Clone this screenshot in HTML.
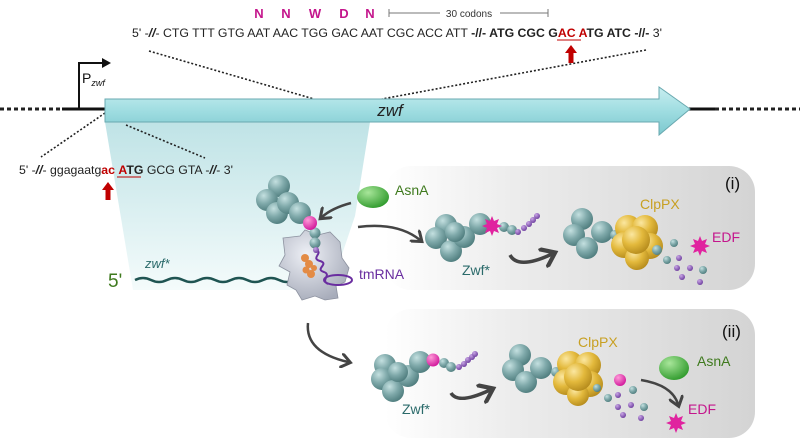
<!DOCTYPE html>
<html><head><meta charset="utf-8"><style>
body{margin:0;background:#fff}
svg{display:block;font-family:"Liberation Sans",sans-serif}
</style></head><body>
<svg width="800" height="446" viewBox="0 0 800 446" xmlns="http://www.w3.org/2000/svg">
<defs>
<radialGradient id="tb" cx="0.35" cy="0.3" r="0.75"><stop offset="0" stop-color="#c4e0e0"/><stop offset="0.5" stop-color="#7fa9aa"/><stop offset="1" stop-color="#4d7b7c"/></radialGradient>
<radialGradient id="gb" cx="0.35" cy="0.3" r="0.75"><stop offset="0" stop-color="#fbe7a0"/><stop offset="0.5" stop-color="#e3b93c"/><stop offset="1" stop-color="#b48a1c"/></radialGradient>
<radialGradient id="mb" cx="0.35" cy="0.3" r="0.75"><stop offset="0" stop-color="#ff9ad8"/><stop offset="1" stop-color="#d0159a"/></radialGradient>
<radialGradient id="grb" cx="0.35" cy="0.3" r="0.75"><stop offset="0" stop-color="#a8e69a"/><stop offset="1" stop-color="#2f9a2c"/></radialGradient>
<radialGradient id="pb" cx="0.35" cy="0.3" r="0.75"><stop offset="0" stop-color="#c9a6e6"/><stop offset="1" stop-color="#6b3b9c"/></radialGradient>
<linearGradient id="pan" x1="0" x2="1"><stop offset="0" stop-color="#fff"/><stop offset="0.35" stop-color="#ececec"/><stop offset="1" stop-color="#d4d4d4"/></linearGradient>
<linearGradient id="tr" x1="0" y1="0" x2="0" y2="1"><stop offset="0" stop-color="#bfe3e6"/><stop offset="1" stop-color="#f4fbfb"/></linearGradient>
<linearGradient id="ar" x1="0" y1="0" x2="0" y2="1"><stop offset="0" stop-color="#c8eef0"/><stop offset="0.5" stop-color="#9fdde1"/><stop offset="1" stop-color="#7cc8ce"/></linearGradient>
<radialGradient id="rib" cx="0.4" cy="0.35" r="0.7"><stop offset="0" stop-color="#eef0f6"/><stop offset="1" stop-color="#a7acba"/></radialGradient>
<marker id="ah" markerWidth="6" markerHeight="6" refX="3" refY="3" orient="auto" markerUnits="strokeWidth"><path d="M0,0 L4,3 L0,6" fill="none" stroke="#444" stroke-width="1.2"/></marker>
</defs>

<!-- panels -->
<rect x="385" y="166" width="370" height="124" rx="26" fill="url(#pan)"/>
<rect x="385" y="309" width="370" height="129" rx="26" fill="url(#pan)"/>
<!-- translation trapezoid -->
<polygon points="105,122 370,122 355,216 330,290 133,290" fill="url(#tr)"/>

<!-- top sequence -->
<g font-weight="bold" fill="#c4168c" font-size="13">
<text x="259" y="18" text-anchor="middle">N</text><text x="286" y="18" text-anchor="middle">N</text><text x="315" y="18" text-anchor="middle">W</text><text x="344" y="18" text-anchor="middle">D</text><text x="370" y="18" text-anchor="middle">N</text></g>
<g stroke="#777" stroke-width="1"><line x1="389" y1="13" x2="440" y2="13"/><line x1="500" y1="13" x2="548" y2="13"/><line x1="389" y1="9" x2="389" y2="17"/><line x1="548" y1="9" x2="548" y2="17"/></g>
<text x="469" y="17" font-size="10" text-anchor="middle" fill="#333">30 codons</text>
<text x="132" y="37" font-size="12" fill="#222" textLength="530" lengthAdjust="spacingAndGlyphs">5' -<tspan font-weight="bold" font-style="italic">//</tspan>- CTG TTT GTG AAT AAC TGG GAC AAT CGC ACC ATT <tspan font-weight="bold">-//- ATG CGC G<tspan fill="#c00000">AC A</tspan>TG ATC -//-</tspan> 3'</text>
<line x1="557" y1="40" x2="581" y2="40" stroke="#c00000" stroke-width="1"/>
<path d="M571,45 L577,53 L573.5,53 L573.5,63 L568.5,63 L568.5,53 L565,53 Z" fill="#c00000"/>
<g stroke="#222" stroke-width="1.6" stroke-dasharray="2,2" fill="none">
<line x1="149" y1="51" x2="314" y2="99"/><line x1="646" y1="50" x2="382" y2="99"/>
<line x1="105" y1="113" x2="41" y2="157"/><line x1="126" y1="125" x2="205" y2="158"/>
<line x1="0" y1="109" x2="62" y2="109" stroke-width="3" stroke-dasharray="4,3"/>
<line x1="715" y1="109" x2="800" y2="109" stroke-width="3" stroke-dasharray="4,3"/>
</g>
<line x1="62" y1="109" x2="106" y2="109" stroke="#111" stroke-width="3"/>
<line x1="688" y1="109" x2="715" y2="109" stroke="#111" stroke-width="3"/>
<!-- promoter -->
<path d="M79,108 L79,63 L104,63" fill="none" stroke="#111" stroke-width="2"/>
<path d="M102,58 L111,63 L102,68 Z" fill="#111"/>
<text x="82" y="83" font-size="14" fill="#111">P<tspan font-size="9" font-style="italic" dy="3">zwf</tspan></text>
<!-- gene arrow -->
<path d="M105,99 L659,99 L659,87 L690,109 L659,135 L659,122 L105,122 Z" fill="url(#ar)" stroke="#6aa9b0" stroke-width="1"/>
<text x="390" y="116" font-size="17" font-style="italic" text-anchor="middle" fill="#222">zwf</text>

<!-- lower sequence -->
<text x="19" y="174" font-size="12" fill="#222" textLength="214" lengthAdjust="spacingAndGlyphs">5' -<tspan font-weight="bold" font-style="italic">//</tspan>- ggagaatg<tspan fill="#c00000" font-weight="bold">ac</tspan> <tspan font-weight="bold"><tspan fill="#c00000">A</tspan>TG</tspan> GCG GTA -<tspan font-weight="bold" font-style="italic">//</tspan>- 3'</text>
<line x1="117" y1="177" x2="141" y2="177" stroke="#c00000" stroke-width="1"/>
<path d="M108,182 L114,190 L110.5,190 L110.5,200 L105.5,200 L105.5,190 L102,190 Z" fill="#c00000"/>

<!-- mRNA -->
<text x="108" y="287" font-size="19" fill="#3f7a1e">5'</text>
<text x="145" y="268" font-size="13" font-style="italic" fill="#2a6a6a">zwf*</text>
<path d="M135,280 q8,-4 16,0 t16,0 t16,0 t16,0 t16,0 t16,0 t16,0 t16,0 t16,0 t16,0 t16,0 L320,279" fill="none" stroke="#1f5452" stroke-width="2.5"/>

<!-- ribosome -->
<path d="M283,238 L300,236 L305,230 L318,235 L330,232 L340,242 L342,258 L349,268 L345,282 L336,286 L338,298 L325,300 L315,296 L302,300 L296,290 L287,285 L290,272 L279,266 L285,255 Z" fill="url(#rib)" stroke="#8d92a0" stroke-width="0.8"/>
<g fill="#e38b45"><circle cx="305" cy="258" r="4"/><circle cx="309" cy="264" r="4"/><circle cx="306" cy="270" r="3.5"/><circle cx="311" cy="274" r="4"/><circle cx="314" cy="268" r="3"/></g>
<path d="M316,250 c8,3 -6,8 4,11 c10,3 -6,8 4,11 c8,3 -4,8 4,12" fill="none" stroke="#6a2ea0" stroke-width="2"/>
<ellipse cx="338" cy="280" rx="14" ry="5" fill="none" stroke="#6a2ea0" stroke-width="2"/>
<text x="359" y="279" font-size="14" fill="#6a2ea0">tmRNA</text>

<!-- nascent protein -->
<g fill="url(#tb)">
<circle cx="279" cy="186" r="11"/><circle cx="267" cy="200" r="11"/><circle cx="277" cy="213" r="11"/><circle cx="288" cy="203" r="11"/><circle cx="300" cy="213" r="11"/>
<circle cx="315" cy="233" r="5.5"/><circle cx="315" cy="243" r="5.5"/></g>
<circle cx="310" cy="223" r="7" fill="url(#mb)"/>
<circle cx="316" cy="250" r="3" fill="url(#pb)"/>
<ellipse cx="373" cy="197" rx="16" ry="11" fill="url(#grb)"/>
<text x="395" y="195" font-size="14" fill="#3f7a1e">AsnA</text>
<path d="M351,203 Q332,208 322,217" fill="none" stroke="#444" stroke-width="2.5" marker-end="url(#ah)"/>
<path d="M358,227 Q398,222 420,240" fill="none" stroke="#444" stroke-width="2.5" marker-end="url(#ah)"/>
<path d="M308,323 Q305,352 348,362" fill="none" stroke="#444" stroke-width="2.5" marker-end="url(#ah)"/>

<!-- panel i -->
<text x="725" y="189" font-size="17" fill="#111">(i)</text>
<g fill="url(#tb)">
<circle cx="446" cy="225" r="11"/><circle cx="436" cy="238" r="11"/><circle cx="451" cy="251" r="11"/><circle cx="464" cy="237" r="11"/><circle cx="480" cy="224" r="11"/><circle cx="455" cy="232" r="10"/>
<circle cx="504" cy="227" r="5"/><circle cx="512" cy="230" r="5"/></g>
<g fill="url(#pb)"><circle cx="518" cy="232" r="3"/><circle cx="524" cy="228" r="3"/><circle cx="529" cy="224" r="3"/><circle cx="533" cy="220" r="3"/><circle cx="537" cy="216" r="3"/></g>
<path d="M492,216 l2,5 5,-2 -2,5 5,2 -5,2 2,5 -5,-2 -2,5 -2,-5 -5,2 2,-5 -5,-2 5,-2 -2,-5 5,2 Z" fill="#e0239f"/>
<text x="462" y="275" font-size="14" fill="#2a6a6a">Zwf*</text>
<path d="M510,255 Q518,270 552,254" fill="none" stroke="#444" stroke-width="3.5" marker-end="url(#ah)"/>
<g fill="url(#tb)"><circle cx="582" cy="219" r="11"/><circle cx="574" cy="235" r="11"/><circle cx="587" cy="248" r="11"/><circle cx="602" cy="232" r="11"/><circle cx="615" cy="235" r="5"/></g>
<g fill="url(#gb)"><circle cx="628" cy="228" r="13"/><circle cx="645" cy="228" r="13"/><circle cx="624" cy="245" r="13"/><circle cx="650" cy="246" r="13"/><circle cx="637" cy="258" r="12"/><circle cx="636" cy="240" r="14"/></g>
<circle cx="657" cy="250" r="5" fill="url(#tb)"/>
<text x="640" y="209" font-size="14" fill="#c8a022">ClpPX</text>
<path d="M700,236 l2,5 5,-2 -2,5 5,2 -5,2 2,5 -5,-2 -2,5 -2,-5 -5,2 2,-5 -5,-2 5,-2 -2,-5 5,2 Z" fill="#e0239f"/>
<text x="712" y="242" font-size="14" fill="#c4168c">EDF</text>
<g fill="url(#tb)"><circle cx="674" cy="243" r="4"/><circle cx="667" cy="260" r="4"/><circle cx="703" cy="270" r="4"/></g>
<g fill="url(#pb)"><circle cx="679" cy="258" r="3"/><circle cx="677" cy="268" r="3"/><circle cx="690" cy="268" r="3"/><circle cx="682" cy="277" r="3"/><circle cx="700" cy="282" r="3"/></g>

<!-- panel ii -->
<text x="722" y="337" font-size="17" fill="#111">(ii)</text>
<g fill="url(#tb)">
<circle cx="385" cy="365" r="11"/><circle cx="382" cy="379" r="11"/><circle cx="393" cy="391" r="11"/><circle cx="408" cy="376" r="11"/><circle cx="420" cy="362" r="11"/><circle cx="398" cy="372" r="10"/>
<circle cx="444" cy="363" r="5"/><circle cx="451" cy="367" r="5"/></g>
<circle cx="433" cy="360" r="6.5" fill="url(#mb)"/>
<g fill="url(#pb)"><circle cx="459" cy="367" r="3"/><circle cx="464" cy="364" r="3"/><circle cx="468" cy="360" r="3"/><circle cx="472" cy="357" r="3"/><circle cx="475" cy="354" r="3"/></g>
<text x="402" y="414" font-size="14" fill="#2a6a6a">Zwf*</text>
<path d="M451,393 Q458,405 490,390" fill="none" stroke="#444" stroke-width="3.5" marker-end="url(#ah)"/>
<g fill="url(#tb)"><circle cx="520" cy="355" r="11"/><circle cx="513" cy="370" r="11"/><circle cx="526" cy="382" r="11"/><circle cx="541" cy="368" r="11"/><circle cx="556" cy="372" r="5"/></g>
<g fill="url(#gb)"><circle cx="570" cy="364" r="13"/><circle cx="588" cy="365" r="13"/><circle cx="566" cy="382" r="13"/><circle cx="590" cy="384" r="13"/><circle cx="578" cy="395" r="11"/><circle cx="578" cy="377" r="14"/></g>
<circle cx="597" cy="388" r="4" fill="url(#tb)"/>
<text x="578" y="347" font-size="14" fill="#c8a022">ClpPX</text>
<circle cx="620" cy="380" r="6" fill="url(#mb)"/>
<g fill="url(#tb)"><circle cx="608" cy="398" r="4"/><circle cx="633" cy="390" r="4"/><circle cx="644" cy="407" r="4"/></g>
<g fill="url(#pb)"><circle cx="618" cy="395" r="3"/><circle cx="631" cy="405" r="3"/><circle cx="618" cy="407" r="3"/><circle cx="623" cy="415" r="3"/><circle cx="641" cy="418" r="3"/></g>
<ellipse cx="674" cy="368" rx="15" ry="12" fill="url(#grb)"/>
<text x="697" y="366" font-size="14" fill="#3f7a1e">AsnA</text>
<path d="M641,380 Q672,385 678,404" fill="none" stroke="#444" stroke-width="2.5" marker-end="url(#ah)"/>
<path d="M676,413 l2,5 5,-2 -2,5 5,2 -5,2 2,5 -5,-2 -2,5 -2,-5 -5,2 2,-5 -5,-2 5,-2 -2,-5 5,2 Z" fill="#e0239f"/>
<text x="688" y="414" font-size="14" fill="#c4168c">EDF</text>
</svg>
</body></html>
